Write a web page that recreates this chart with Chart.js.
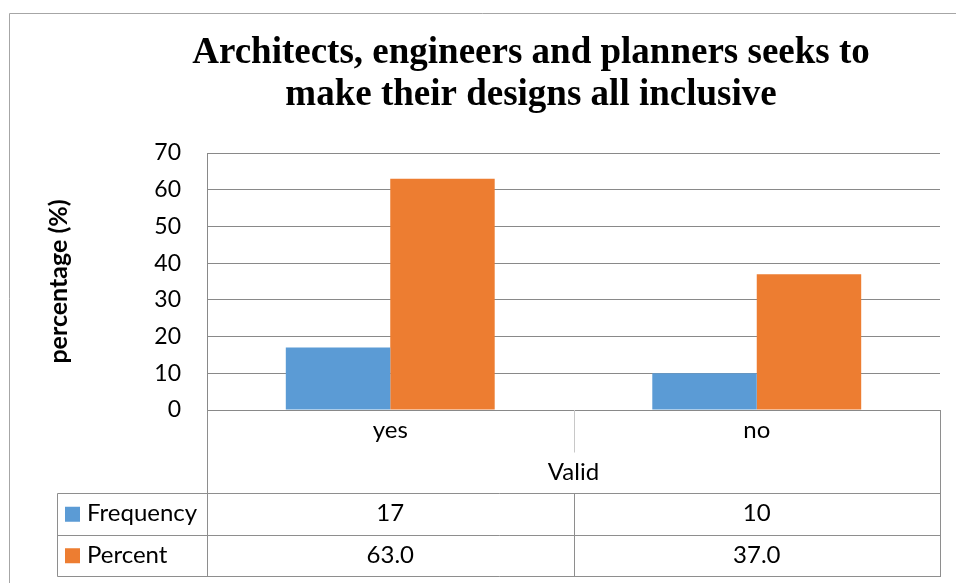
<!DOCTYPE html>
<html>
<head>
<meta charset="utf-8">
<script src="https://cdn.jsdelivr.net/npm/chart.js@4/dist/chart.umd.min.js"></script>
<style>
  html, body { margin: 0; padding: 0; background: #ffffff; }
  #wrap { width: 956px; height: 583px; position: relative; }
</style>
</head>
<body>
<div id="wrap"><canvas id="chart" width="956" height="583"></canvas></div>
<script>
// Survey responses, one group per answer
const categories = ['yes', 'no'];
const groupLabel = 'Valid';
const seriesNames = ['Frequency', 'Percent'];
const frequency = [17, 10];
const percent = [63.0, 37.0];
const frequencyText = ['17', '10'];
const percentText = ['63.0', '37.0'];
const yTicks = [0, 10, 20, 30, 40, 50, 60, 70];
const titleLines = ['Architects, engineers and planners seeks to', 'make their designs all inclusive'];
const yTitle = 'percentage (%)';

const BLUE = '#5B9BD5';
const ORANGE = '#ED7D31';
const GRID = '#898989';
const TABLE_LINE = '#8e8e8e';
const SANS = 'Lato, "Open Sans", sans-serif';
const SERIF = '"Liberation Serif", "Times New Roman", serif';

// Title, outer frame and the data table underneath the plot
const decorations = {
  id: 'decorations',
  afterDraw(chart) {
    const ctx = chart.ctx;
    const area = chart.chartArea;
    const xs = chart.scales.x;
    ctx.save();

    // outer frame (top and left edges are visible)
    ctx.strokeStyle = '#a6a6a6';
    ctx.lineWidth = 1;
    ctx.beginPath();
    ctx.moveTo(9.5, 583);
    ctx.lineTo(9.5, 13.5);
    ctx.lineTo(956, 13.5);
    ctx.stroke();

    // title
    ctx.fillStyle = '#000000';
    ctx.font = 'bold 37px ' + SERIF;
    ctx.textAlign = 'center';
    ctx.textBaseline = 'alphabetic';
    ctx.fillText(titleLines[0], 531, 63);
    ctx.fillText(titleLines[1], 531, 105);

    // data table
    const rowH = 41.5;
    const top = area.bottom;
    const r1 = top + rowH, r2 = top + 2 * rowH, r3 = top + 3 * rowH, r4 = top + 4 * rowH;
    const left = area.left, right = area.right;
    const mid = (xs.getPixelForValue(0) + xs.getPixelForValue(1)) / 2;
    const legendLeft = 57;
    const px = v => Math.round(v) + 0.5;

    ctx.strokeStyle = TABLE_LINE;
    ctx.lineWidth = 1;
    ctx.beginPath();
    // vertical borders
    ctx.moveTo(px(left), top); ctx.lineTo(px(left), px(r4));
    ctx.moveTo(px(right), top); ctx.lineTo(px(right), px(r4));
    ctx.moveTo(px(legendLeft), px(r2)); ctx.lineTo(px(legendLeft), px(r4));
    ctx.moveTo(px(mid), px(r2)); ctx.lineTo(px(mid), px(r4));
    // horizontal rules
    [r2, r3, r4].forEach(y => {
      ctx.moveTo(px(legendLeft), px(y)); ctx.lineTo(px(right) + 0.5, px(y));
    });
    ctx.stroke();

    // light divider between the answer labels
    ctx.strokeStyle = '#c8c8c8';
    ctx.beginPath();
    ctx.moveTo(px(mid), top); ctx.lineTo(px(mid), px(r1));
    ctx.stroke();

    ctx.fillStyle = '#000000';
    ctx.font = '24px ' + SANS;
    ctx.textBaseline = 'middle';
    ctx.textAlign = 'center';
    categories.forEach((c, i) => {
      const x = xs.getPixelForValue(i);
      ctx.fillText(c, x, top + rowH / 2);
      ctx.fillText(frequencyText[i], x, r2 + rowH / 2);
      ctx.fillText(percentText[i], x, r3 + rowH / 2);
    });
    ctx.fillText(groupLabel, (left + right) / 2, r1 + rowH / 2);

    // legend keys in the row headers
    const colors = [BLUE, ORANGE];
    [r2, r3].forEach((y, i) => {
      ctx.fillStyle = colors[i];
      ctx.fillRect(65, y + rowH / 2 - 7, 15, 15);
      ctx.fillStyle = '#000000';
      ctx.textAlign = 'left';
      ctx.fillText(seriesNames[i], 87, y + rowH / 2);
    });

    ctx.restore();
  }
};

new Chart(document.getElementById('chart'), {
  type: 'bar',
  data: {
    labels: categories,
    datasets: [
      { label: seriesNames[0], data: frequency, backgroundColor: BLUE },
      { label: seriesNames[1], data: percent, backgroundColor: ORANGE }
    ]
  },
  options: {
    responsive: false,
    animation: false,
    devicePixelRatio: 1,
    categoryPercentage: 0.57,
    barPercentage: 1.0,
    layout: { padding: { top: 153, right: 16, bottom: 173, left: 0 } },
    plugins: {
      legend: { display: false },
      title: { display: false },
      tooltip: { enabled: false }
    },
    scales: {
      x: { display: false },
      y: {
        min: 0,
        max: 70,
        afterBuildTicks(scale) { scale.ticks = yTicks.map(v => ({ value: v })); },
        afterFit(scale) { scale.width = 207; },
        ticks: { color: '#000000', font: { family: SANS, size: 23 }, padding: 26 },
        grid: { color: GRID, lineWidth: 1, drawTicks: false },
        border: { display: true, color: GRID },
        title: {
          display: true,
          text: yTitle,
          color: '#000000',
          font: { family: SANS, size: 25, weight: 'bold' },
          padding: { top: 44, bottom: 0 }
        }
      }
    }
  },
  plugins: [decorations]
});
</script>
</body>
</html>
